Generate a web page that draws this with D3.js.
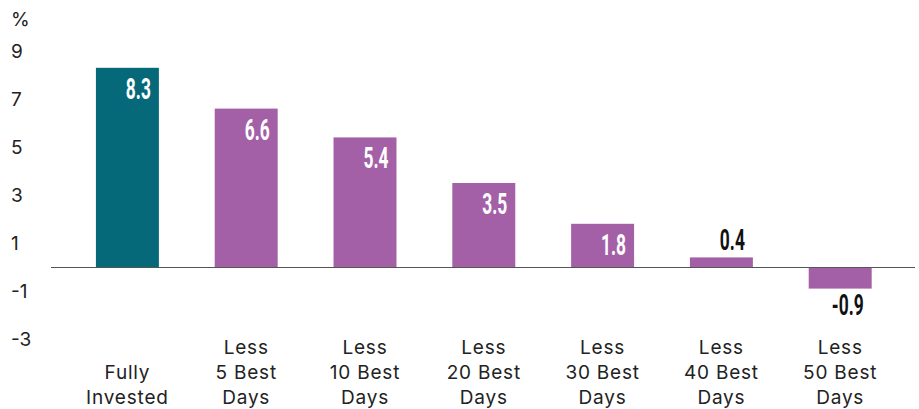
<!DOCTYPE html>
<html>
<head>
<meta charset="utf-8">
<script src="https://cdn.jsdelivr.net/npm/d3@7"></script>
<style>
  body { margin: 0; background: #fff; }
  svg { display: block; }
</style>
</head>
<body>
<div id="chart"></div>
<script>
// chart data
const categories = [
    ["Fully", "Invested"],
    ["Less", "5 Best", "Days"],
    ["Less", "10 Best", "Days"],
    ["Less", "20 Best", "Days"],
    ["Less", "30 Best", "Days"],
    ["Less", "40 Best", "Days"],
    ["Less", "50 Best", "Days"]
];
const values = [8.3, 6.6, 5.4, 3.5, 1.8, 0.4, -0.9];
const yTicks = [9, 7, 5, 3, 1, -1, -3];

const width = 919, height = 409;
const labelFont = "Inter, Roboto, sans-serif";

const svg = d3.select("#chart")
    .append("svg")
    .attr("width", width)
    .attr("height", height);

// y: 24px per unit, zero at 267
const y = d3.scaleLinear()
    .domain([-3, 9])
    .range([339, 51]);

const x = d3.scaleBand()
    .domain(d3.range(values.length))
    .range([68, 68 + 7 * 118.8])
    .paddingInner(0.47)
    .paddingOuter(0.235);

// y tick labels (no axis line)
svg.selectAll(".ytick")
    .data(yTicks)
    .enter()
    .append("text")
    .attr("class", "ytick")
    .attr("x", 11)
    .attr("y", d => y(d))
    .attr("dy", "0.35em")
    .style("font-family", labelFont)
    .style("font-size", "19px")
    .attr("fill", "#222")
    .text(d => d);

svg.append("text")
    .attr("x", 11)
    .attr("y", y(9) - 32)
    .attr("dy", "0.35em")
    .style("font-family", labelFont)
    .style("font-size", "19px")
    .attr("fill", "#222")
    .text("%");

// bars
svg.selectAll(".bar")
    .data(values)
    .enter()
    .append("rect")
    .attr("class", "bar")
    .attr("x", (d, i) => x(i))
    .attr("width", x.bandwidth())
    .attr("y", d => y(Math.max(0, d)))
    .attr("height", d => Math.abs(y(d) - y(0)))
    .attr("fill", (d, i) => i === 0 ? "#05697A" : "#A460A6");

// zero line
svg.append("line")
    .attr("x1", 51)
    .attr("x2", 915)
    .attr("y1", y(0) + 0.5)
    .attr("y2", y(0) + 0.5)
    .attr("stroke", "#555")
    .attr("stroke-width", 1);

// value labels: condensed bold, inside tall bars, outside small ones
svg.selectAll(".val")
    .data(values)
    .enter()
    .append("text")
    .attr("class", "val")
    .attr("text-anchor", "end")
    .attr("transform", (d, i) => {
        const tx = x(i) + x.bandwidth() - 8;
        let ty;
        if (d < 0) ty = y(d) + 26;
        else if (d < 1) ty = y(d) - 7;
        else ty = y(d) + 31;
        return "translate(" + tx + "," + ty + ") scale(0.6,1)";
    })
    .style("font-family", "Roboto, sans-serif")
    .style("font-weight", "bold")
    .style("font-size", "29px")
    .attr("fill", d => d < 1 ? "#111" : "#fff")
    .text(d => d.toFixed(1));

// category labels, bottom aligned
const lineH = 25;
categories.forEach((lines, i) => {
    const t = svg.append("text")
        .attr("text-anchor", "middle")
        .style("font-family", labelFont)
        .style("font-size", "19px")
        .style("letter-spacing", "0.8px")
        .attr("fill", "#222");
    lines.forEach((ln, j) => {
        t.append("tspan")
            .attr("x", x(i) + x.bandwidth() / 2)
            .attr("y", 404 - (lines.length - 1 - j) * lineH)
            .text(ln);
    });
});
</script>
</body>
</html>
